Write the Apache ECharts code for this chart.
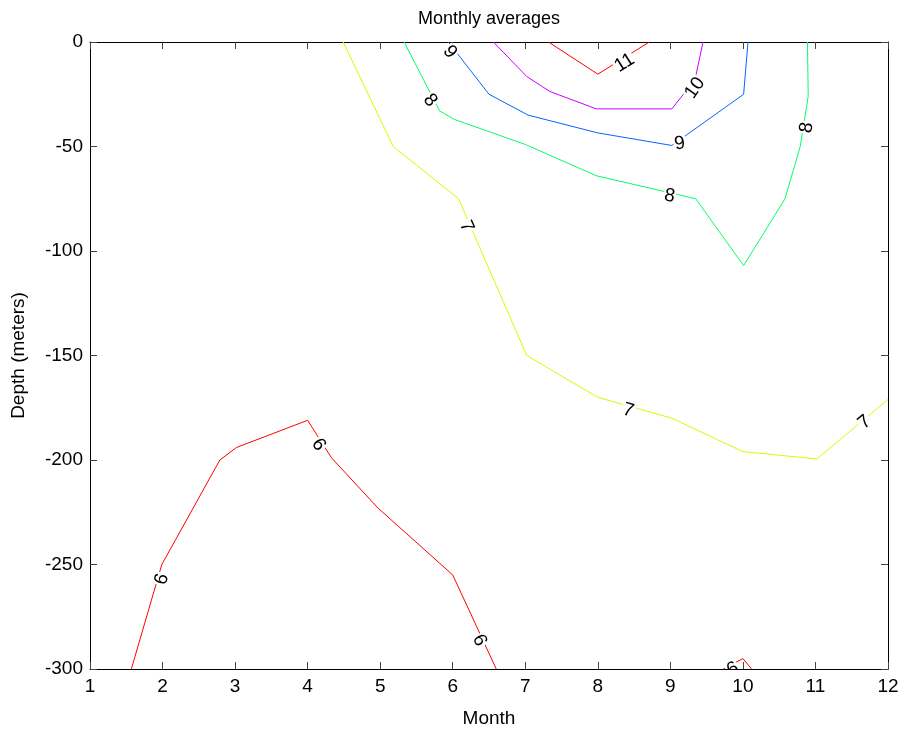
<!DOCTYPE html>
<html>
<head>
<meta charset="utf-8">
<script src="https://cdn.jsdelivr.net/npm/echarts@6/dist/echarts.min.js"></script>
<style>
  html, body { margin: 0; padding: 0; background: #fff; }
  #chart { width: 902px; height: 733px; }
</style>
</head>
<body>
<div id="chart"></div>
<script>
// Contour levels of the monthly temperature averages, each as [month, depth] vertices
const level6a = [[1.57,-300],[1.99,-250],[2.79,-200],[3.02,-194],[4.0,-181],[4.33,-199],[4.97,-223],[6.0,-255],[6.6,-300]];
const level6b = [[9.73,-300],[10.0,-295],[10.12,-300]];
const level7  = [[4.49,0],[5.18,-50],[6.08,-75],[7.02,-150],[8.0,-170],[9.02,-180],[10.0,-196],[11.02,-199.5],[12,-171]];
const level8  = [[5.33,0],[5.82,-33],[6.02,-37],[7.0,-49],[7.98,-64],[9.35,-75],[10.01,-107],[10.58,-75],[10.79,-50],[10.9,-26],[10.89,0]];
const level9  = [[5.94,0],[6.5,-25],[7.04,-35],[8.0,-43.5],[9.02,-49.5],[10.01,-25],[10.07,0]];
const level10 = [[6.56,0],[7.02,-16.5],[7.34,-23.7],[7.98,-32],[9.02,-32],[9.34,-18],[9.45,0]];
const level11 = [[7.32,0],[8.0,-15.4],[8.71,0]];

// Inline contour labels: [month, depth, level, angle in degrees]
const contourLabels = [
  [5.96, -4.8, 9, -52],
  [5.69, -28, 8, -50],
  [8.37, -10, 11, 32],
  [9.34, -22, 10, 55],
  [9.13, -48.6, 9, 10],
  [8.99, -73.7, 8, -10],
  [10.88, -41, 8, 80],
  [6.19, -88.2, 7, -66],
  [8.42, -176.3, 7, -16],
  [11.68, -182, 7, 40],
  [1.99, -257, 6, 74],
  [4.15, -192.7, 6, -56],
  [6.37, -286.3, 6, -65],
  [9.86, -300, 6, 29]
];

const monthRange = [1, 12];
const depthRange = [-300, 0];

// hsv colours spread over levels 6..11
const levelColors = { 6: '#ff0000', 7: '#ccff00', 8: '#00ff66', 9: '#0066ff', 10: '#cc00ff', 11: '#ff0000' };

const contours = [
  [6, level6a], [6, level6b], [7, level7], [8, level8],
  [9, level9], [10, level10], [11, level11]
];

const FONT = 'Liberation Sans, Arial, sans-serif';
const TEXT_SIZE = 19;

function boxAxis(extra) {
  return Object.assign({
    type: 'value',
    axisLine: { show: true, onZero: false, lineStyle: { color: '#000', width: 1 } },
    axisTick: { show: true, inside: true, length: 7, lineStyle: { color: '#444' } },
    splitLine: { show: false },
    axisLabel: { show: false }
  }, extra);
}

const chart = echarts.init(document.getElementById('chart'), null, { renderer: 'canvas' });

const series = contours.map(([lvl, pts]) => ({
  type: 'line',
  data: pts,
  showSymbol: false,
  symbol: 'none',
  lineStyle: { color: levelColors[lvl], width: 1 },
  itemStyle: { color: levelColors[lvl] },
  z: 2,
  silent: true,
  clip: true
}));

series.push({
  type: 'custom',
  data: contourLabels,
  encode: { x: 0, y: 1 },
  clip: true,
  z: 5,
  silent: true,
  renderItem: function (params, api) {
    const p = api.coord([api.value(0), api.value(1)]);
    return {
      type: 'text',
      x: p[0],
      y: p[1],
      rotation: api.value(3) * Math.PI / 180,
      style: {
        text: String(api.value(2)),
        fontSize: TEXT_SIZE,
        fontFamily: FONT,
        fill: '#000',
        align: 'center',
        verticalAlign: 'middle',
        backgroundColor: '#fff',
        padding: [-2, 1]
      }
    };
  }
});

chart.setOption({
  animation: false,
  backgroundColor: '#fff',
  textStyle: { fontFamily: FONT },
  grid: { left: 90, right: 14, top: 42, bottom: 61, containLabel: false },
  xAxis: [
    boxAxis({
      position: 'bottom', min: monthRange[0], max: monthRange[1], interval: 1,
      axisLabel: { show: true, fontSize: TEXT_SIZE, color: '#000', margin: 8, fontFamily: FONT },
      name: 'Month', nameLocation: 'middle', nameGap: 40,
      nameTextStyle: { fontSize: TEXT_SIZE, color: '#000', fontFamily: FONT }
    }),
    boxAxis({
      position: 'top', min: monthRange[0], max: monthRange[1], interval: 1,
      name: 'Monthly averages', nameLocation: 'middle', nameGap: 14,
      nameTextStyle: { fontSize: 18, color: '#000', fontFamily: FONT }
    })
  ],
  yAxis: [
    boxAxis({
      position: 'left', min: depthRange[0], max: depthRange[1], interval: 50,
      axisLabel: { show: true, fontSize: TEXT_SIZE, color: '#000', margin: 7, fontFamily: FONT },
      name: 'Depth (meters)', nameLocation: 'middle', nameGap: 62,
      nameTextStyle: { fontSize: TEXT_SIZE, color: '#000', fontFamily: FONT }
    }),
    boxAxis({ position: 'right', min: depthRange[0], max: depthRange[1], interval: 50 })
  ],
  series: series
});
</script>
</body>
</html>
